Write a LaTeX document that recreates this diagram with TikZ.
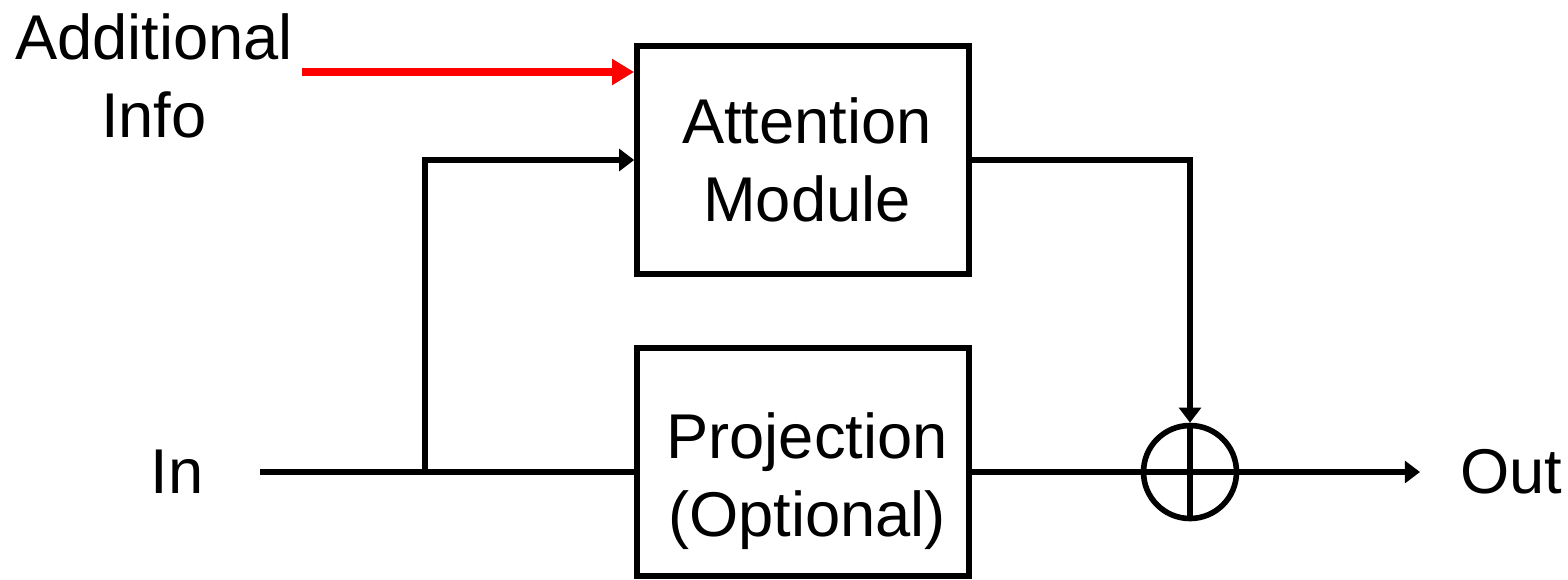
\documentclass[tikz,border=0pt]{standalone}
\usepackage{fontspec}
\setmainfont{Liberation Sans}
\usetikzlibrary{arrows.meta,positioning}

\begin{document}
\begin{tikzpicture}[
  block/.style={draw, line width=1.6pt, minimum width=3.32cm, minimum height=2.28cm, inner sep=0pt},
  lbl/.style={align=center, font=\fontsize{18}{22}\selectfont},
  conn/.style={line width=1.6pt},
  arr/.style={conn, -{Triangle[length=4.3pt, width=6.2pt]}},
  redarr/.style={line width=2pt, red, -{Triangle[length=6.3pt, width=7.1pt]}}
]
\useasboundingbox (0,0) rectangle (15.68,5.79);

% Blocks
\node[block] (attn) at (8.03, 4.19) {};
\node[lbl] (attntxt) at ([xshift=0.04cm]attn.center) {Attention\\Module};
\node[block] (proj) at (8.03, 1.17) {};
\node[lbl] (projtxt) at ([xshift=0.04cm, yshift=-0.19cm]proj.center) {Projection\\(Optional)};

% Summation
\node[draw, circle, line width=1.6pt, minimum size=0.93cm, inner sep=0pt] (sum) at (11.90, 1.07) {};
\draw[conn] (sum.north) -- (sum.south);

% Outer labels
\node[lbl] (info) at (1.54, 5.03) {Additional\\Info};
\node[lbl] (in) at (1.77, 1.07) {In};
\node[lbl] (out) at (15.11, 1.07) {Out};

% Free ends
\coordinate (infopt) at (3.02, 5.07);
\coordinate (inpt) at (2.60, 1.07);
\coordinate (split) at (4.25, 1.07);
\coordinate (outpt) at (14.20, 1.07);

% Connections
\draw[redarr] (infopt) -- (infopt -| attn.west);
\draw[conn] (inpt) -- (inpt -| proj.west);
\draw[arr] (split) |- (attn.west);
\draw[arr] (attn.east) -| (sum.north);
\draw[conn] (sum -| proj.east) -- (sum.west);
\draw[conn] (sum.west) -- (sum.east);
\draw[arr] (sum.east) -- (outpt);

\end{tikzpicture}
\end{document}
